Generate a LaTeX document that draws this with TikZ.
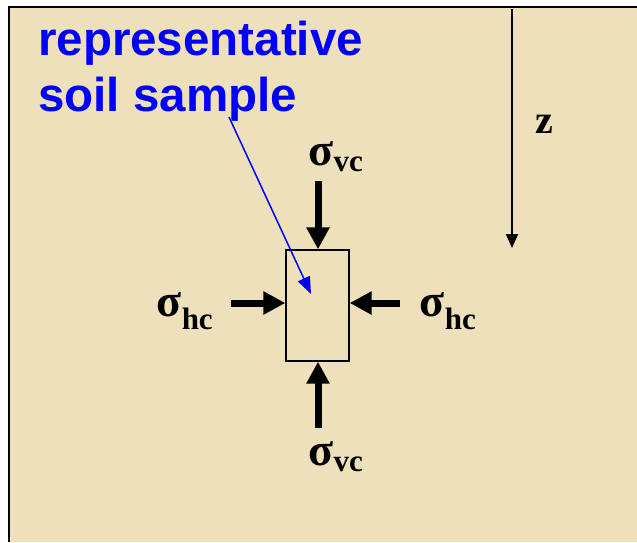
\documentclass[tikz,border=0pt]{standalone}
\usepackage{fontspec}
\setmainfont{Liberation Serif}
\newfontfamily\labelsans{Liberation Sans}
\usetikzlibrary{arrows.meta}
\definecolor{parch}{RGB}{239,224,188}
\tikzset{
  force/.style={line width=7pt,-{Triangle[width=22pt,length=22pt]}},
  sig/.style={font=\fontsize{46}{48}\selectfont\bfseries, inner sep=0pt},
  bluetxt/.style={font=\labelsans\fontsize{47.5}{50}\selectfont\bfseries, text=blue, inner sep=0pt, anchor=base west},
}
\begin{document}
\begin{tikzpicture}[x=1pt,y=-1pt]
\useasboundingbox (0,0) rectangle (637,542);
\fill[white] (0,0) rectangle (637,542);
\fill[parch] (9,7) rectangle (637,542);
\draw[line width=2pt] (9,542) -- (9,7) -- (637,7);
% text
\node[bluetxt] (t1) at (38,55) {representative};
\node[bluetxt] (t2) at (38,111) {soil sample};
% sample
\node[draw, line width=1.3pt, minimum width=63pt, minimum height=111pt, inner sep=0pt] (sample) at (317.5,305.5) {};
% forces
\coordinate (ttop) at (318,181);
\coordinate (tbot) at (318,428);
\coordinate (tleft) at (231,303);
\coordinate (tright) at (400,303);
\draw[force] (ttop) -- (sample.north -| ttop);
\draw[force] (tbot) -- (sample.south -| tbot);
\draw[force] (tleft) -- (sample.west |- tleft);
\draw[force] (tright) -- (sample.east |- tright);
% labels
\node[sig] (svc1) at (336,157) {σ\textsubscript{\fontsize{31}{31}\selectfont vc}};
\node[sig] (svc2) at (336,457) {σ\textsubscript{\fontsize{31}{31}\selectfont vc}};
\node[sig] (shc1) at (185,311) {σ\textsubscript{\fontsize{31}{31}\selectfont hc}};
\node[sig] (shc2) at (448,311) {σ\textsubscript{\fontsize{31}{31}\selectfont hc}};
% blue pointer
\coordinate (ptr) at (311,294);
\draw[blue, line width=1.5pt, -{Triangle[width=13pt,length=17pt]}] (229,117) -- (ptr);
% z axis
\coordinate (z0) at (512,9);
\coordinate (z1) at (512,248);
\draw[line width=1.6pt, -{Triangle[width=12pt,length=14pt]}] (z0) -- (z1);
\node[font=\fontsize{40}{40}\selectfont\bfseries, inner sep=0pt] (zl) at (544,124) {z};
\end{tikzpicture}
\end{document}
